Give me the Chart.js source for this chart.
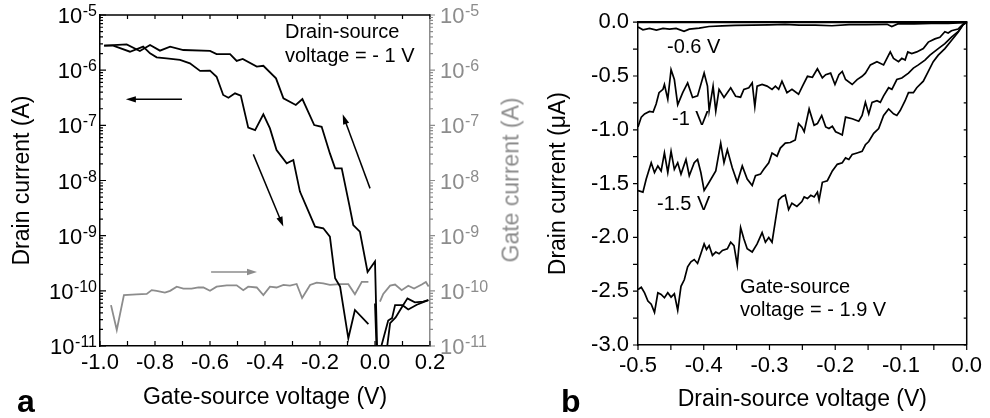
<!DOCTYPE html>
<html><head><meta charset="utf-8">
<script src="https://cdn.jsdelivr.net/npm/chart.js@4.4.1/dist/chart.umd.min.js"></script>
<style>
html,body{margin:0;padding:0;background:#fff;}
#wrap{position:relative;width:990px;height:418px;overflow:hidden;font-family:'Liberation Sans',Arial,sans-serif;}
canvas{position:absolute;top:0;}
#ca{left:0;} #cb{left:525px;}
.t{position:absolute;white-space:nowrap;font-size:20px;line-height:24px;color:#000;}
.lbl{position:absolute;font-weight:bold;font-size:32px;line-height:32px;color:#000;}
#gtitle{position:absolute;left:511px;top:180px;transform:translate(-50%,-50%) rotate(-90deg);white-space:nowrap;font-size:23px;color:#8c8c8c;}
</style></head>
<body><div id="wrap">
<canvas id="ca" width="525" height="418"></canvas>
<canvas id="cb" width="465" height="418"></canvas>
<div class="t" style="left:285px;top:19px;">Drain-source<br>voltage = - 1 V</div>
<div class="t" style="left:667px;top:34px;">-0.6 V</div>
<div class="t" style="left:672px;top:106px;">-1 V</div>
<div class="t" style="left:657px;top:191px;">-1.5 V</div>
<div class="t" style="left:740px;top:275px;line-height:23px;">Gate-source<br>voltage = - 1.9 V</div>
<div class="lbl" style="left:17px;top:385px;">a</div>
<div class="lbl" style="left:561px;top:385px;">b</div>
<div id="gtitle">Gate current (A)</div>
</div>
<script>
// ---------- Panel a: transfer curves (log scale) ----------
const sweep1Vg = [-0.985,-0.952,-0.891,-0.843,-0.818,-0.794,-0.758,-0.709,-0.673,-0.636,-0.600,-0.576,-0.552,-0.533,-0.509,-0.488,-0.461,-0.436,-0.406,-0.382,-0.358,-0.321,-0.297,-0.273,-0.218,-0.188,-0.164,-0.145,-0.127,-0.097,-0.073,-0.024,0.000,0.000,0.006,0.042,0.055,0.075,0.097,0.118,0.145,0.175,0.194];
const sweep1Id = [2.78e-6,2.78e-6,2.16e-6,2.67e-6,2.02e-6,1.71e-6,1.64e-6,1.53e-6,1.33e-6,9.7e-7,9.8e-7,7.6e-7,3.55e-7,3.17e-7,3.8e-7,3.45e-7,9.1e-8,8.2e-8,1.58e-7,8.8e-8,3.57e-8,2.05e-8,2.35e-8,6.3e-9,1.46e-9,1.36e-9,9.6e-10,1.69e-10,1.19e-10,1.38e-11,4.5e-11,2.5e-11,null,5.9e-11,8e-12,8e-12,2.6e-11,3.3e-11,5.0e-11,7.3e-11,6.2e-11,6.4e-11,6.8e-11];
const sweep2Vg = [-0.985,-0.903,-0.855,-0.818,-0.782,-0.745,-0.697,-0.600,-0.576,-0.527,-0.503,-0.481,-0.430,-0.406,-0.360,-0.333,-0.288,-0.264,-0.221,-0.194,-0.164,-0.145,-0.121,-0.093,-0.079,-0.055,-0.027,0.000,0.008,0.018,0.048,0.062,0.073,0.100,0.121,0.152,0.194];
const sweep2Id = [2.78e-6,2.94e-6,2.23e-6,2.86e-6,2.26e-6,2.67e-6,2.32e-6,2.23e-6,1.96e-6,1.96e-6,1.47e-6,1.6e-6,1.16e-6,1.2e-6,7.1e-7,3.09e-7,2.34e-7,3.0e-7,1.01e-7,9.4e-8,3.1e-8,1.66e-8,1.66e-8,3.5e-9,1.56e-9,1.18e-9,2.2e-10,3.4e-10,8e-12,8e-12,2.9e-11,3.2e-11,5.5e-11,5.5e-11,4.6e-11,5.6e-11,6.8e-11];
const gateVg = [-0.960,-0.939,-0.913,-0.867,-0.830,-0.812,-0.794,-0.764,-0.745,-0.721,-0.697,-0.667,-0.642,-0.624,-0.600,-0.576,-0.539,-0.503,-0.479,-0.461,-0.430,-0.406,-0.382,-0.358,-0.333,-0.309,-0.285,-0.265,-0.236,-0.212,-0.188,-0.164,-0.127,-0.097,-0.073,-0.048,-0.024,0.000,0.018,0.030,0.055,0.073,0.097,0.121,0.142,0.170,0.185,0.195];
const gateIg = [5.5e-11,1.95e-11,8.4e-11,8.6e-11,8.8e-11,1.03e-10,1.0e-10,9.3e-11,1.0e-10,1.19e-10,1.1e-10,1.1e-10,1.15e-10,1.15e-10,1.0e-10,1.19e-10,1.26e-10,1.26e-10,1.03e-10,1.19e-10,1.15e-10,8.4e-11,1.19e-10,1.15e-10,1.28e-10,1.24e-10,1.33e-10,7.4e-11,1.28e-10,1.41e-10,1.37e-10,1.28e-10,1.32e-10,1.32e-10,8.7e-11,1.45e-10,1.45e-10,null,6.4e-11,8.8e-11,1.24e-10,1.3e-10,1.03e-10,1.24e-10,1.1e-10,1.3e-10,1.45e-10,1.2e-10];
const decadeExps = [-11,-10,-9,-8,-7,-6,-5];

// ---------- Panel b: output curves ----------
const vds06 = [-0.500,-0.4925,-0.4825,-0.472,-0.462,-0.452,-0.442,-0.430,-0.422,-0.407,-0.392,-0.372,-0.352,-0.326,-0.301,-0.276,-0.255,-0.230,-0.205,-0.179,-0.154,-0.121,-0.114,-0.104,-0.080,-0.054,-0.028,-0.006,0];
const id06 = [-0.045,-0.070,-0.058,-0.073,-0.058,-0.065,-0.058,-0.085,-0.065,-0.055,-0.040,-0.035,-0.030,-0.028,-0.025,-0.020,-0.027,-0.027,-0.033,-0.022,-0.022,-0.020,-0.040,-0.013,-0.015,-0.012,-0.010,-0.005,0];
const vds10 = [-0.5000,-0.4950,-0.4900,-0.4825,-0.4770,-0.4724,-0.4680,-0.4620,-0.4598,-0.4547,-0.4497,-0.4447,-0.4396,-0.4320,-0.4245,-0.4170,-0.4094,-0.3994,-0.3943,-0.3918,-0.3858,-0.3817,-0.3767,-0.3692,-0.3590,-0.3515,-0.3440,-0.3390,-0.3314,-0.3263,-0.3223,-0.3188,-0.3112,-0.3037,-0.2961,-0.2910,-0.2860,-0.2810,-0.2734,-0.2658,-0.2558,-0.2498,-0.2422,-0.2347,-0.2271,-0.2196,-0.2145,-0.2070,-0.2004,-0.1944,-0.1893,-0.1843,-0.1742,-0.1667,-0.1591,-0.1541,-0.1465,-0.1365,-0.1264,-0.1163,-0.1113,-0.1037,-0.0987,-0.0937,-0.0896,-0.0836,-0.0760,-0.0660,-0.0584,-0.0484,-0.0408,-0.0332,-0.0282,-0.0232,-0.0131,-0.0056,0];
const id10 = [-0.973,-0.882,-0.852,-0.830,-0.836,-0.761,-0.655,-0.624,-0.579,-0.715,-0.442,-0.533,-0.767,-0.655,-0.564,-0.700,-0.685,-0.473,-0.594,-0.821,-0.594,-0.827,-0.624,-0.700,-0.609,-0.688,-0.697,-0.624,-0.609,-0.564,-0.785,-0.594,-0.579,-0.594,-0.624,-0.594,-0.624,-0.548,-0.655,-0.624,-0.670,-0.594,-0.503,-0.512,-0.433,-0.518,-0.488,-0.473,-0.579,-0.488,-0.458,-0.533,-0.579,-0.533,-0.503,-0.473,-0.397,-0.367,-0.397,-0.276,-0.336,-0.367,-0.336,-0.352,-0.276,-0.291,-0.276,-0.245,-0.185,-0.155,-0.140,-0.088,-0.100,-0.079,-0.064,-0.018,0];
const vds15 = [-0.5000,-0.4925,-0.4875,-0.4799,-0.4749,-0.4698,-0.4648,-0.4598,-0.4547,-0.4497,-0.4447,-0.4396,-0.4346,-0.4270,-0.4220,-0.4145,-0.4094,-0.4044,-0.3994,-0.3918,-0.3817,-0.3742,-0.3692,-0.3641,-0.3566,-0.3490,-0.3414,-0.3339,-0.3263,-0.3213,-0.3137,-0.3087,-0.3011,-0.2961,-0.2885,-0.2835,-0.2760,-0.2684,-0.2608,-0.2558,-0.2507,-0.2472,-0.2397,-0.2321,-0.2271,-0.2206,-0.2145,-0.2095,-0.2044,-0.1994,-0.1944,-0.1893,-0.1843,-0.1742,-0.1642,-0.1591,-0.1541,-0.1490,-0.1440,-0.1365,-0.1314,-0.1264,-0.1188,-0.1138,-0.1063,-0.0987,-0.0886,-0.0811,-0.0735,-0.0635,-0.0559,-0.0433,-0.0332,-0.0232,-0.0131,-0.0056,0];
const id15 = [-1.564,-1.579,-1.458,-1.306,-1.397,-1.336,-1.382,-1.215,-1.397,-1.200,-1.367,-1.306,-1.412,-1.276,-1.427,-1.306,-1.276,-1.397,-1.564,-1.488,-1.382,-1.124,-1.306,-1.185,-1.352,-1.488,-1.336,-1.458,-1.518,-1.427,-1.412,-1.367,-1.306,-1.215,-1.245,-1.170,-1.124,-1.118,-1.094,-0.942,-0.976,-1.018,-0.806,-0.958,-0.942,-0.867,-0.973,-0.988,-0.967,-1.018,-1.033,-1.048,-0.882,-0.897,-0.921,-0.867,-0.745,-0.852,-0.745,-0.730,-0.745,-0.685,-0.609,-0.624,-0.533,-0.518,-0.473,-0.427,-0.397,-0.352,-0.306,-0.245,-0.200,-0.139,-0.088,-0.024,0];
const vds19 = [-0.5000,-0.4950,-0.4900,-0.4849,-0.4799,-0.4749,-0.4698,-0.4648,-0.4598,-0.4547,-0.4497,-0.4447,-0.4396,-0.4346,-0.4296,-0.4245,-0.4195,-0.4145,-0.4094,-0.4044,-0.3994,-0.3958,-0.3918,-0.3868,-0.3817,-0.3767,-0.3716,-0.3641,-0.3590,-0.3540,-0.3490,-0.3439,-0.3389,-0.3339,-0.3263,-0.3188,-0.3112,-0.3062,-0.3011,-0.2961,-0.2911,-0.2860,-0.2810,-0.2760,-0.2709,-0.2659,-0.2583,-0.2507,-0.2472,-0.2422,-0.2372,-0.2321,-0.2271,-0.2246,-0.2196,-0.2120,-0.2044,-0.1969,-0.1893,-0.1843,-0.1793,-0.1742,-0.1667,-0.1591,-0.1541,-0.1490,-0.1415,-0.1339,-0.1264,-0.1188,-0.1113,-0.1063,-0.1012,-0.0937,-0.0886,-0.0811,-0.0760,-0.0660,-0.0584,-0.0509,-0.0433,-0.0332,-0.0232,-0.0131,-0.0056,0];
const id19 = [-2.485,-2.464,-2.515,-2.591,-2.621,-2.697,-2.515,-2.530,-2.561,-2.515,-2.555,-2.524,-2.676,-2.455,-2.394,-2.273,-2.227,-2.206,-2.242,-2.152,-2.061,-2.112,-2.076,-2.167,-2.136,-2.152,-2.121,-2.106,-2.045,-2.076,-2.258,-1.909,-2.015,-2.106,-2.136,-2.061,-1.955,-2.045,-2.000,-2.045,-1.848,-1.652,-1.621,-1.606,-1.742,-1.682,-1.712,-1.667,-1.624,-1.639,-1.609,-1.624,-1.579,-1.655,-1.488,-1.473,-1.382,-1.321,-1.306,-1.261,-1.276,-1.230,-1.215,-1.200,-1.139,-1.109,-1.033,-0.988,-0.867,-0.806,-0.852,-0.867,-0.821,-0.730,-0.655,-0.655,-0.609,-0.548,-0.458,-0.367,-0.306,-0.245,-0.170,-0.094,-0.024,0];

// ---------- helpers ----------
const GRAY = '#8c8c8c';
const FONT = "'Liberation Sans', Arial, sans-serif";
Chart.defaults.font.family = FONT;
function decadeTicks(axis){ axis.ticks = decadeExps.map(e => ({value: Math.pow(10, e)})); }
function expOf(v){ return Math.round(Math.log10(v)); }
function pts(xs, ys){ return xs.map((x, i) => ({x: x, y: ys[i]})); }
function fmt1(v){ return Math.abs(v) < 1e-9 ? '0.0' : Number(v).toFixed(1); }
function seq(a, b, step){ const out = []; const n = Math.round((b - a) / step); for (let i = 0; i <= n; i++) out.push(a + i * step); return out; }
const logMinor = []; decadeExps.slice(0, -1).forEach(e => { for (let k = 2; k <= 9; k++) logMinor.push(k * Math.pow(10, e)); });
const logMajor = decadeExps.map(e => Math.pow(10, e));

function drawArrow(ctx, x1, y1, x2, y2, color){
  const ang = Math.atan2(y2 - y1, x2 - x1), hl = 10, hw = 3.2;
  const bx = x2 - hl * Math.cos(ang), by = y2 - hl * Math.sin(ang);
  ctx.strokeStyle = color; ctx.fillStyle = color; ctx.lineWidth = 1.5;
  ctx.beginPath(); ctx.moveTo(x1, y1); ctx.lineTo(bx + Math.cos(ang), by + Math.sin(ang)); ctx.stroke();
  ctx.beginPath(); ctx.moveTo(x2, y2);
  ctx.lineTo(bx - hw * Math.sin(ang), by + hw * Math.cos(ang));
  ctx.lineTo(bx + hw * Math.sin(ang), by - hw * Math.cos(ang));
  ctx.closePath(); ctx.fill();
}

// power-of-ten tick labels with a raised exponent, drawn at the log scale's tick pixels
function drawDecadeLabels(ctx, scale, side, anchorX, color){
  scale.ticks.forEach(t => {
    const y = scale.getPixelForValue(t.value);
    const ex = String(expOf(t.value));
    ctx.fillStyle = color; ctx.textBaseline = 'alphabetic'; ctx.textAlign = 'left';
    ctx.font = '22px ' + FONT; const bw = ctx.measureText('10').width;
    ctx.font = '16px ' + FONT; const ew = ctx.measureText(ex).width;
    const x0 = side === 'left' ? anchorX - ew - bw - 0.5 : anchorX;
    ctx.font = '22px ' + FONT; ctx.fillText('10', x0, y + 8);
    ctx.font = '16px ' + FONT; ctx.fillText(ex, x0 + bw + 0.5, y + 1);
  });
}

function framePlugin(spec){
  return { id: 'frame_' + spec.name, afterDatasetsDraw(chart){
    const ctx = chart.ctx, a = chart.chartArea;
    ctx.save();
    spec.lines.forEach(l => {
      ctx.strokeStyle = l.color; ctx.lineWidth = l.width; ctx.beginPath();
      if (l.side === 'top'){ ctx.moveTo(a.left - 0.75, a.top); ctx.lineTo(a.right + 0.75, a.top); }
      else { ctx.moveTo(a.right, a.top); ctx.lineTo(a.right, a.bottom); }
      ctx.stroke();
    });
    spec.ticks.forEach(t => {
      const sc = chart.scales[t.scale];
      ctx.strokeStyle = t.color; ctx.lineWidth = 1.2; ctx.beginPath();
      t.values.forEach(v => {
        const p = sc.getPixelForValue(v);
        if (t.side === 'bottom'){ ctx.moveTo(p, a.bottom); ctx.lineTo(p, a.bottom - t.dir * t.len); }
        else if (t.side === 'top'){ ctx.moveTo(p, a.top); ctx.lineTo(p, a.top + t.dir * t.len); }
        else if (t.side === 'left'){ ctx.moveTo(a.left, p); ctx.lineTo(a.left + t.dir * t.len, p); }
        else { ctx.moveTo(a.right, p); ctx.lineTo(a.right - t.dir * t.len, p); }
      });
      ctx.stroke();
    });
    (spec.decadeLabels || []).forEach(d => {
      const sc = chart.scales[d.scale];
      drawDecadeLabels(ctx, sc, d.side, d.side === 'left' ? a.left - d.gap : a.right + d.gap, d.color);
    });
    (spec.arrows || []).forEach(ar => {
      const xs = chart.scales.x, ys = chart.scales[ar.yScale];
      drawArrow(ctx, xs.getPixelForValue(ar.from[0]), ys.getPixelForValue(ar.from[1]),
                     xs.getPixelForValue(ar.to[0]), ys.getPixelForValue(ar.to[1]), ar.color);
    });
    ctx.restore();
  }};
}

const arrowsA = [
  {from: [-0.702, 2.96e-7], to: [-0.906, 2.96e-7], yScale: 'y', color: '#000'},
  {from: [-0.4425, 2.98e-8], to: [-0.3335, 1.46e-9], yScale: 'y', color: '#000'},
  {from: [-0.018, 7.2e-9], to: [-0.1175, 1.58e-7], yScale: 'y', color: '#000'},
  {from: [-0.596, 2.2e-10], to: [-0.429, 2.2e-10], yScale: 'y2', color: GRAY}
];

const lineDs = (data, color, yAxisID, width) => ({data, borderColor: color, backgroundColor: color, borderWidth: width, showLine: true, pointRadius: 0, tension: 0, yAxisID, clip: 0, spanGaps: false});

// ---------- Chart a ----------
new Chart(document.getElementById('ca'), {
  type: 'scatter',
  data: { datasets: [
    lineDs(pts(sweep1Vg, sweep1Id), '#000', 'y', 1.8),
    lineDs(pts(sweep2Vg, sweep2Id), '#000', 'y', 1.8),
    lineDs(pts(gateVg, gateIg), GRAY, 'y2', 1.8)
  ]},
  options: {
    responsive: false, animation: false, events: [],
    layout: {padding: {top: 15, left: 0, right: 0, bottom: 0}},
    plugins: {legend: {display: false}, tooltip: {enabled: false}},
    scales: {
      x: {type: 'linear', min: -1.0, max: 0.2, afterFit: s => { s.height = 72; },
          grid: {display: false, drawTicks: false}, border: {display: true, color: '#000', width: 1.5},
          ticks: {stepSize: 0.2, padding: 4, color: '#000', font: {size: 22}, maxRotation: 0, autoSkip: false, callback: fmt1},
          title: {display: true, text: 'Gate-source voltage (V)', color: '#000', font: {size: 23}, padding: {top: 0, bottom: 7}}},
      y: {type: 'logarithmic', position: 'left', min: 1e-11, max: 1e-5, afterFit: s => { s.width = 100; }, afterBuildTicks: decadeTicks,
          grid: {display: false, drawTicks: false}, border: {display: true, color: '#000', width: 1.5},
          ticks: {display: false},
          title: {display: true, text: 'Drain current (A)', color: '#000', font: {size: 23}, padding: {top: 9, bottom: 0}}},
      y2: {type: 'logarithmic', position: 'right', min: 1e-11, max: 1e-5, afterFit: s => { s.width = 95; }, afterBuildTicks: decadeTicks,
          grid: {display: false, drawTicks: false}, border: {display: true, color: GRAY, width: 1.5},
          ticks: {display: false}}
    }
  },
  plugins: [framePlugin({name: 'a',
    lines: [{side: 'top', color: '#000', width: 1.5}],
    ticks: [
      {scale: 'x', side: 'bottom', values: seq(-1.0, 0.2, 0.1), len: 5, dir: 1, color: '#000'},
      {scale: 'x', side: 'top', values: seq(-1.0, 0.2, 0.1), len: 4, dir: 1, color: '#000'},
      {scale: 'y', side: 'left', values: logMajor, len: 6, dir: 1, color: '#000'},
      {scale: 'y', side: 'left', values: logMinor, len: 3, dir: 1, color: '#000'},
      {scale: 'y2', side: 'right', values: logMajor, len: 5, dir: -1, color: GRAY},
      {scale: 'y2', side: 'right', values: logMinor, len: 3, dir: -1, color: GRAY}
    ],
    decadeLabels: [
      {scale: 'y', side: 'left', gap: 3, color: '#000'},
      {scale: 'y2', side: 'right', gap: 10, color: GRAY}
    ],
    arrows: arrowsA})]
});

// ---------- Chart b ----------
const lineB = (xs, ys) => ({data: pts(xs, ys), borderColor: '#000', borderWidth: 1.7, showLine: true, pointRadius: 0, tension: 0});
new Chart(document.getElementById('cb'), {
  type: 'scatter',
  data: { datasets: [lineB(vds06, id06), lineB(vds10, id10), lineB(vds15, id15), lineB(vds19, id19)] },
  options: {
    responsive: false, animation: false, events: [],
    layout: {padding: {top: 15, left: 0, right: 21, bottom: 0}},
    plugins: {legend: {display: false}, tooltip: {enabled: false}},
    scales: {
      x: {type: 'linear', min: -0.5, max: 0, afterFit: s => { s.height = 73; },
          grid: {display: false, drawTicks: false}, border: {display: true, color: '#000', width: 1.5},
          ticks: {stepSize: 0.1, padding: 8, color: '#000', font: {size: 22}, maxRotation: 0, autoSkip: false, callback: fmt1},
          title: {display: true, text: 'Drain-source voltage (V)', color: '#000', font: {size: 23}, padding: {top: 0, bottom: 5}}},
      y: {type: 'linear', min: -3, max: 0, afterFit: s => { s.width = 113; },
          grid: {display: false, drawTicks: false}, border: {display: true, color: '#000', width: 1.5},
          ticks: {stepSize: 0.5, padding: 9, color: '#000', font: {size: 22}, autoSkip: false, callback: fmt1},
          title: {display: true, text: 'Drain current (\u03BCA)', color: '#000', font: {size: 23}, padding: {top: 20, bottom: 0}}}
    }
  },
  plugins: [framePlugin({name: 'b',
    lines: [{side: 'top', color: '#000', width: 2.2}, {side: 'right', color: '#000', width: 1.5}],
    ticks: [
      {scale: 'y', side: 'left', values: seq(-3, 0, 0.25), len: 5, dir: -1, color: '#000'},
      {scale: 'x', side: 'bottom', values: seq(-0.5, 0, 0.05), len: 5, dir: -1, color: '#000'},
      {scale: 'y', side: 'right', values: seq(-3, 0, 0.25), len: 3, dir: 1, color: '#000'}
    ]})]
});
</script>
</body></html>
